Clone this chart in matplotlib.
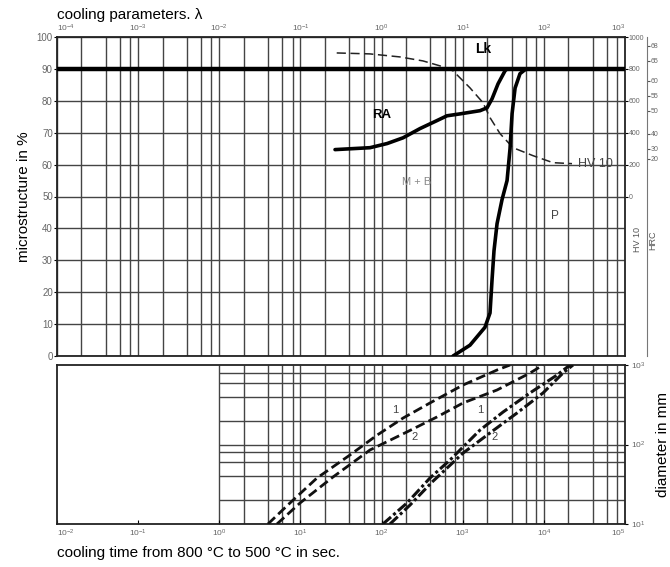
# CCT-type chart: microstructure / hardness vs cooling time, plus diameter panel
import numpy as np
import matplotlib; matplotlib.use("Agg")
import matplotlib.pyplot as plt
from matplotlib.ticker import NullLocator, FixedLocator
plt.rcParams["font.family"] = ["Liberation Sans", "DejaVu Sans"]

W, H = 670, 567

# ---- data ----
LK_LEVEL = 90

ra_t = [26.7, 72, 117, 184, 298, 482, 640, 926, 1634, 1995, 2297, 2723, 3322, 3516]
ra_pct = [64.7, 65.3, 66.6, 68.4, 71.3, 73.8, 75.3, 75.9, 76.9, 77.8, 80.6, 85.3, 89.4, 90]

p_t = [760, 1230, 1880, 2170, 2300, 2430, 2650, 3050, 3520, 3830, 4060, 4420, 5080, 6030]
p_pct = [0, 3.4, 9, 13.5, 24, 33, 41.5, 49, 55, 65, 76, 84, 88.5, 90]

hv_t = [28, 72, 169, 324, 525, 759, 1230, 1778, 2173, 2884, 4169, 7345, 12970, 22230]
hv_val = [900, 894, 875, 850, 819, 788, 681, 588, 494, 394, 306, 256, 212, 206]

# lower panel: diameter vs cooling time
d1_t = [3.98, 7.44, 16.0, 40.8, 87.9, 184, 395, 1009, 2650, 3830]
d1_d = [10, 18.4, 37.9, 73.8, 131, 215, 333, 560, 865, 1000]
d2_t = [5.14, 9.9, 25.2, 72, 206, 482, 1009, 2650, 6745, 9770]
d2_d = [10, 18.4, 39, 85.3, 144, 222, 333, 485, 792, 1000]
dc1_t = [104, 206, 395, 697, 1634, 3141, 6745, 14520, 21000]
dc1_d = [10, 18.4, 37.9, 63.8, 152, 256, 445, 748, 1000]
dc2_t = [127, 224, 419, 1009, 2173, 4667, 9770, 17220, 22870]
dc2_d = [10, 17.3, 33.7, 78, 140, 249, 445, 793, 1000]

pct_ticks = list(range(0, 101, 10))
hv_ticks = [0, 200, 400, 600, 800, 1000]
hrc_ticks = [20, 30, 40, 50, 55, 60, 65, 68]
hrc_hv = [238, 300, 394, 537, 631, 725, 850, 944]
lam_ticks = [1e-4, 1e-3, 1e-2, 1e-1, 1e0, 1e1, 1e2, 1e3]
t_ticks = [1e-2, 1e-1, 1e0, 1e1, 1e2, 1e3, 1e4, 1e5]
d_ticks = [10, 100, 1000]

GRID = "#444444"
TICK = "#666666"


def hv_to_pct(h):
    return np.asarray(h) / 20.0 + 50


def pct_to_hv(p):
    return (np.asarray(p) - 50) * 20.0


def px_axes(fig, l, t, r, b):
    return fig.add_axes([l / W, 1 - b / H, (r - l) / W, (b - t) / H])


fig = plt.figure(figsize=(W / 100, H / 100), dpi=100)

# ---------------- upper panel ----------------
ax = px_axes(fig, 57, 37, 625, 356)
ax.set_xscale("log")
ax.set_xlim(1e-2, 1e5)
ax.set_ylim(0, 100)

vgrid = [m * 10.0 ** k for k in range(-2, 5) for m in (1, 2, 4, 6, 8)]
ax.vlines(vgrid, 0, 100, color=GRID, lw=1.0, zorder=1)
ax.hlines(pct_ticks, 1e-2, 1e5, color=GRID, lw=1.0, zorder=1)

ax.axhline(LK_LEVEL, color="black", lw=3.2, zorder=4)
ax.plot(ra_t, ra_pct, color="black", lw=2.6, zorder=4, solid_capstyle="round")
ax.plot(p_t, p_pct, color="black", lw=2.6, zorder=4, solid_capstyle="round")
ax.plot(hv_t, hv_to_pct(hv_val), color="#222", lw=1.1, dashes=(6, 3), zorder=3)

ax.text(1780, 96.2, "Lk", fontsize=10, fontweight="bold", ha="center", va="center")
ax.text(101, 75.5, "RA", fontsize=9.5, fontweight="bold", ha="center", va="center")
ax.text(273, 54.4, "M + B", fontsize=8, color="#888", ha="center", va="center")
ax.text(13700, 44, "P", fontsize=8.5, color="#444", ha="center", va="center")
ax.text(26000, 60.3, "HV 10", fontsize=9, color="#444", ha="left", va="center")

ax.set_yticks(pct_ticks)
ax.yaxis.set_minor_locator(NullLocator())
ax.tick_params(axis="y", labelsize=7, labelcolor=TICK, length=2, pad=1)
ax.tick_params(axis="x", which="both", bottom=False, labelbottom=False, top=False)
for s in ax.spines.values():
    s.set_linewidth(1.3)
    s.set_color("#222")
ax.set_ylabel("microstructure in %", fontsize=11, labelpad=4)

# cooling parameter lambda on top
lam = ax.secondary_xaxis("top", functions=(lambda t: t / 100.0, lambda l: l * 100.0))
lam.set_xticks(lam_ticks)
lam.xaxis.set_minor_locator(NullLocator())
lam.tick_params(labelsize=6, labelcolor=TICK, length=0, pad=2)
lam.spines["top"].set_visible(False)

# hardness scales on the right
hv = ax.secondary_yaxis("right", functions=(pct_to_hv, hv_to_pct))
hv.yaxis.set_major_locator(FixedLocator(hv_ticks))
hv.yaxis.set_minor_locator(NullLocator())
hv.tick_params(labelsize=5, labelcolor=TICK, length=2, pad=0.5)
hv.spines["right"].set_visible(False)

hrc = ax.secondary_yaxis((647 - 57) / (625 - 57))
hrc.set_yticks(hv_to_pct(hrc_hv), labels=[str(v) for v in hrc_ticks])
hrc.yaxis.set_minor_locator(NullLocator())
hrc.tick_params(labelsize=5, labelcolor=TICK, length=2, pad=0.5, color="#555")
hrc.spines["right"].set_color("#777")
hrc.spines["right"].set_linewidth(0.8)

fig.text(638 / W, 1 - 240 / H, "HV 10", rotation=90, fontsize=6.5, color="#555",
         ha="center", va="center")
fig.text(653 / W, 1 - 240 / H, "HRC", rotation=90, fontsize=6.5, color="#555",
         ha="center", va="center")

fig.text(57 / W, 1 - 15 / H, "cooling parameters. \u03bb", fontsize=11, ha="left", va="center")

# ---------------- lower panel ----------------
ax2 = px_axes(fig, 57, 365, 625, 524)
ax2.set_xscale("log")
ax2.set_yscale("log")
ax2.set_xlim(1e-2, 1e5)
ax2.set_ylim(10, 1000)

vgrid2 = [m * 10.0 ** k for k in range(0, 5) for m in (1, 2, 4, 6, 8)]
hgrid2 = [m * 10.0 ** k for k in range(1, 3) for m in (1, 2, 4, 6, 8)]
ax2.vlines(vgrid2, 10, 1000, color=GRID, lw=1.0, zorder=1)
ax2.hlines(hgrid2, 1, 1e5, color=GRID, lw=1.0, zorder=1)

ax2.plot(d1_t, d1_d, color="#111", lw=2.0, dashes=(3.5, 1.6), zorder=3)
ax2.plot(d2_t, d2_d, color="#111", lw=2.0, dashes=(3.5, 1.6), zorder=3)
ax2.plot(dc1_t, dc1_d, color="#111", lw=2.2, dashes=(3.5, 1.0, 1.0, 1.0), zorder=3)
ax2.plot(dc2_t, dc2_d, color="#111", lw=2.2, dashes=(3.5, 1.0, 1.0, 1.0), zorder=3)

for tx, dy, s in [(147, 272, "1"), (258, 124, "2"), (1634, 272, "1"), (2500, 124, "2")]:
    ax2.text(tx, dy, s, fontsize=8, color="#444", ha="center", va="center")

ax2.set_xticks(t_ticks)
ax2.xaxis.set_minor_locator(NullLocator())
ax2.yaxis.tick_right()
ax2.yaxis.set_label_position("right")
ax2.set_yticks(d_ticks)
ax2.yaxis.set_minor_locator(NullLocator())
ax2.tick_params(axis="x", labelsize=6, labelcolor=TICK, length=3, direction="in", pad=3)
ax2.tick_params(axis="y", labelsize=6, labelcolor=TICK, length=2, pad=2)
for s in ax2.spines.values():
    s.set_linewidth(1.3)
    s.set_color("#222")
ax2.set_ylabel("diameter in mm", fontsize=11, labelpad=8)

fig.text(57 / W, 1 - 553 / H, "cooling time from 800 \u00b0C to 500 \u00b0C in sec.",
         fontsize=11, ha="left", va="center")

# edge labels sit inside the frame, like in the scan
fig.canvas.draw()
lam.get_xticklabels()[0].set_ha("left")
lam.get_xticklabels()[-1].set_ha("right")
ax2.get_xticklabels()[0].set_ha("left")
ax2.get_xticklabels()[-1].set_ha("right")

fig.savefig("out.png", dpi=100)
